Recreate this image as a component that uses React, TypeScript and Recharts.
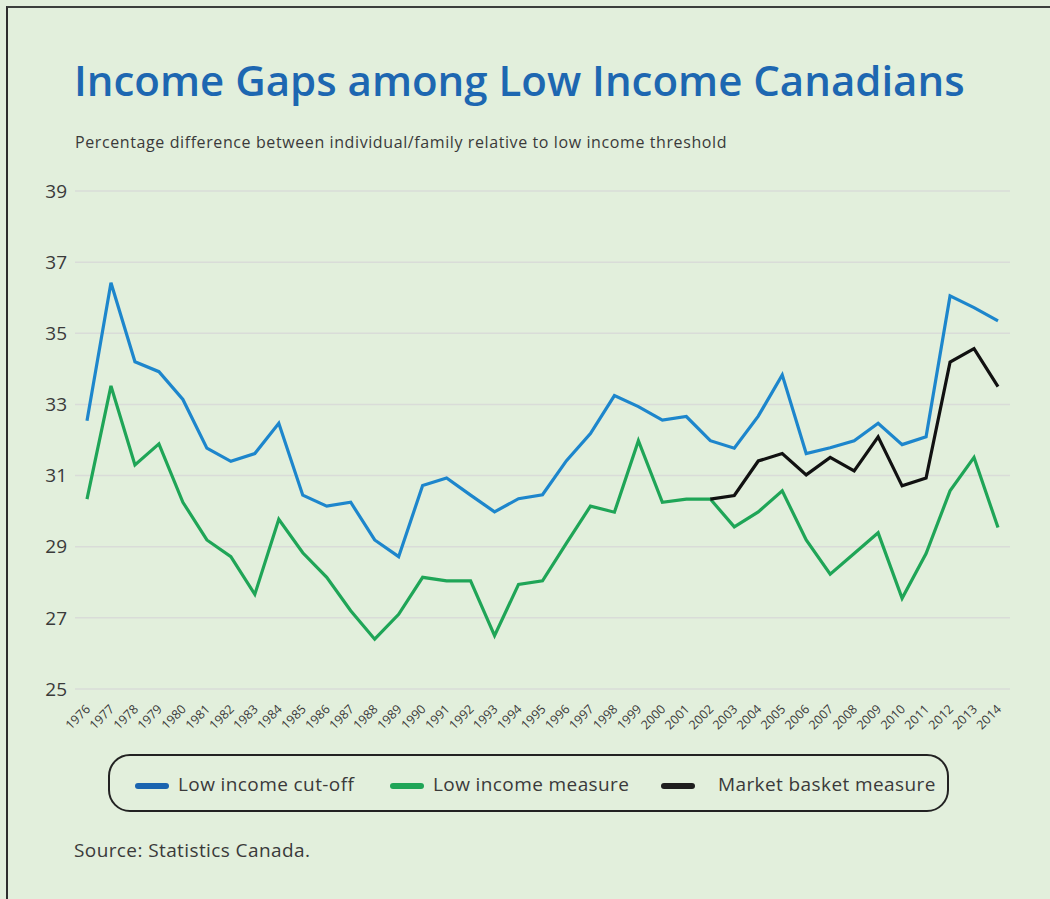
import React from 'react';
import { LineChart, Line, XAxis, YAxis, CartesianGrid, Legend } from 'recharts';

const years = ['1976','1977','1978','1979','1980','1981','1982','1983','1984','1985','1986','1987','1988','1989','1990','1991','1992','1993','1994','1995','1996','1997','1998','1999','2000','2001','2002','2003','2004','2005','2006','2007','2008','2009','2010','2011','2012','2013','2014'];

const lowIncomeCutOff = [32.54,36.42,34.2,33.92,33.14,31.77,31.4,31.62,32.47,30.45,30.14,30.25,29.19,28.72,30.72,30.93,30.45,29.98,30.35,30.46,31.42,32.18,33.25,32.94,32.56,32.66,31.98,31.77,32.67,33.83,31.62,31.78,31.98,32.47,31.87,32.09,36.05,35.72,35.35];

const lowIncomeMeasure = [30.34,33.52,31.3,31.89,30.25,29.19,28.72,27.66,29.77,28.83,28.14,27.2,26.4,27.1,28.14,28.04,28.04,26.5,27.94,28.04,29.1,30.14,29.97,31.98,30.25,30.34,30.34,29.56,29.98,30.57,29.19,28.23,28.81,29.39,27.55,28.81,30.57,31.51,29.54];

const marketBasketMeasure: (number | null)[] = [null,null,null,null,null,null,null,null,null,null,null,null,null,null,null,null,null,null,null,null,null,null,null,null,null,null,30.34,30.44,31.41,31.62,31.02,31.51,31.13,32.09,30.71,30.93,34.19,34.57,33.5];

const yTicks = [25,27,29,31,33,35,37,39];

const seriesNames = ['Low income cut-off','Low income measure','Market basket measure'];
const lineColors = ['#1d86cc','#1fa557','#111111'];
const legendColors = ['#1a64b0','#1fa557','#1e1e1e'];

const data = years.map((y, i) => ({
  year: y,
  lico: lowIncomeCutOff[i],
  lim: lowIncomeMeasure[i],
  mbm: marketBasketMeasure[i],
}));

const FONT = '"Open Sans", sans-serif';
const TEXT = '#3a3a3a';

const XTick = (props: any) => {
  const { x, y, payload } = props;
  const ax = x + 4;
  const ay = y + 13;
  return (
    <text x={ax} y={ay} transform={`rotate(-45 ${ax} ${ay})`} textAnchor="end" fontSize={12.5} fill={TEXT} fontFamily={FONT}>
      {payload.value}
    </text>
  );
};

const swatchLeft = [27, 282, 553];
const textLeft = [70, 325, 610];

const LegendBox = () => (
  <div style={{
    position: 'relative', boxSizing: 'border-box', width: 841, height: 58, border: '2px solid #222', borderRadius: 22,
    fontFamily: FONT, fontSize: 19, color: TEXT, letterSpacing: 0.4,
  }}>
    {seriesNames.map((n, i) => (
      <React.Fragment key={n}>
        <span style={{ position: 'absolute', left: swatchLeft[i] - 2, top: 27, width: 34, height: 6, borderRadius: 3, background: legendColors[i] }} />
        <span style={{ position: 'absolute', left: textLeft[i] - 2, top: 15, whiteSpace: 'nowrap', lineHeight: '26px' }}>{n}</span>
      </React.Fragment>
    ))}
  </div>
);

export default function App() {
  return (
    <div style={{ position: 'absolute', left: 0, top: 0, width: 1050, height: 899, background: '#e2efdc', overflow: 'hidden', fontFamily: FONT }}>
      <div style={{ position: 'absolute', left: 6, top: 6, width: 1100, height: 1000, borderTop: '2px solid #3c3f3c', borderLeft: '2px solid #2e2e2e' }} />
      <div style={{ position: 'absolute', left: 74, top: 51, fontSize: 42, fontWeight: 600, color: '#1d67b1', whiteSpace: 'nowrap', letterSpacing: 0 }}>
        Income Gaps among Low Income Canadians
      </div>
      <div style={{ position: 'absolute', left: 75, top: 131, fontSize: 16, color: TEXT, whiteSpace: 'nowrap', letterSpacing: 0.6 }}>
        Percentage difference between individual/family relative to low income threshold
      </div>
      <div style={{ position: 'absolute', left: 0, top: 0 }}>
        <LineChart width={1050} height={830} data={data} margin={{ top: 191, right: 40, bottom: 23, left: 0 }}>
          <CartesianGrid vertical={false} stroke="#d9dcd8" strokeWidth={1.5} />
          <XAxis dataKey="year" interval={0} axisLine={false} tickLine={false} padding={{ left: 12, right: 12 }} height={60} tick={<XTick />} />
          <YAxis width={75} domain={[25, 39]} ticks={yTicks} axisLine={false} tickLine={false} tick={{ fontSize: 19, fill: TEXT, fontFamily: FONT }} />
          <Legend content={<LegendBox />} wrapperStyle={{ position: 'absolute', left: 108, top: 754, width: 841, height: 58 }} />
          <Line dataKey="lico" name={seriesNames[0]} stroke={lineColors[0]} strokeWidth={3.2} dot={false} isAnimationActive={false} />
          <Line dataKey="lim" name={seriesNames[1]} stroke={lineColors[1]} strokeWidth={3.2} dot={false} isAnimationActive={false} />
          <Line dataKey="mbm" name={seriesNames[2]} stroke={lineColors[2]} strokeWidth={3.2} dot={false} isAnimationActive={false} />
        </LineChart>
      </div>
      <div style={{ position: 'absolute', left: 74, top: 837, fontSize: 19, color: TEXT, whiteSpace: 'nowrap', letterSpacing: 0.4 }}>
        Source: Statistics Canada.
      </div>
    </div>
  );
}
